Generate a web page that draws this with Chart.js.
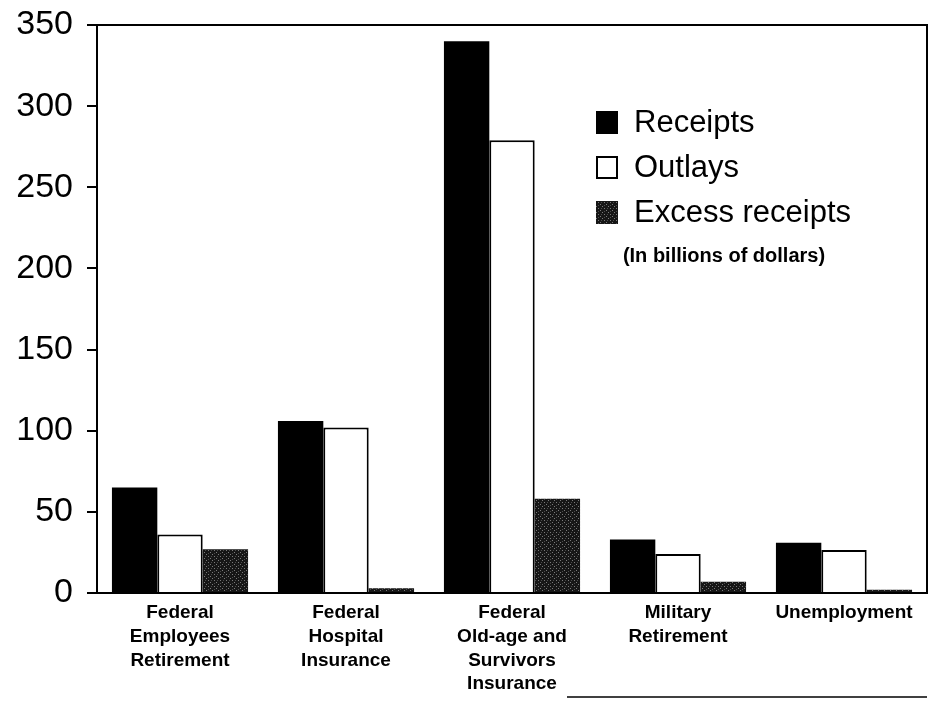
<!DOCTYPE html>
<html>
<head>
<meta charset="utf-8">
<script src="https://cdn.jsdelivr.net/npm/chart.js@4"></script>
<style>
  html, body { margin: 0; padding: 0; background: #fff; }
  #wrap { width: 938px; height: 712px; }
</style>
</head>
<body>
<div id="wrap"><canvas id="funds"></canvas></div>
<script>
  const categories = [
    ["Federal", "Employees", "Retirement"],
    ["Federal", "Hospital", "Insurance"],
    ["Federal", "Old-age and", "Survivors", "Insurance"],
    ["Military", "Retirement"],
    ["Unemployment"]
  ];
  const receipts = [65, 106, 340, 33, 31];
  const outlays = [36, 102, 279, 24, 26.5];
  const excessReceipts = [27, 3, 58, 7, 2];
  const yTicks = [0, 50, 100, 150, 200, 250, 300, 350];

  const FONT = "'Liberation Sans', Arial, sans-serif";

  // speckled dark fill for the excess receipts bars
  function makeSpeckle() {
    const c = document.createElement("canvas");
    c.width = 6; c.height = 6;
    const g = c.getContext("2d");
    g.fillStyle = "#161616";
    g.fillRect(0, 0, 6, 6);
    g.fillStyle = "#7a7a7a";
    for (let i = 0; i < 6; i += 2) g.fillRect(i, i, 1, 1);
    g.fillStyle = "#4a4a4a";
    g.fillRect(4, 1, 1, 1);
    g.fillRect(1, 4, 1, 1);
    return g.createPattern(c, "repeat");
  }
  const speckle = makeSpeckle();

  // frame around the plot, the legend block and the rule at the bottom
  const decorations = {
    id: "decorations",
    afterDraw(chart) {
      const ctx = chart.ctx;
      const a = chart.chartArea;
      ctx.save();
      ctx.strokeStyle = "#000";
      ctx.lineWidth = 2;
      ctx.beginPath();
      ctx.moveTo(a.left - 10, a.top);
      ctx.lineTo(a.right, a.top);
      ctx.lineTo(a.right, a.bottom);
      ctx.stroke();

      ctx.lineWidth = 1.5;
      ctx.beginPath();
      ctx.moveTo(a.left + 470, 697);
      ctx.lineTo(a.right, 697);
      ctx.stroke();

      const lx = 596, ly = 111, gap = 45;
      ctx.font = "31px " + FONT;
      ctx.textBaseline = "middle";
      chart.data.datasets.forEach((ds, i) => {
        const y = ly + i * gap;
        ctx.fillStyle = ds.backgroundColor;
        ctx.fillRect(lx, y, 22, 23);
        if (ds.borderWidth) {
          ctx.lineWidth = 2;
          ctx.strokeStyle = "#000";
          ctx.strokeRect(lx + 1, y + 1, 20, 21);
        }
        ctx.fillStyle = "#000";
        ctx.fillText(ds.label, lx + 38, y + 12);
      });
      ctx.font = "bold 20px " + FONT;
      ctx.textAlign = "center";
      ctx.fillText("(In billions of dollars)", 724, 256);
      ctx.restore();
    }
  };

  new Chart(document.getElementById("funds"), {
    type: "bar",
    data: {
      labels: categories,
      datasets: [
        { label: "Receipts", data: receipts, backgroundColor: "#000", borderWidth: 0 },
        { label: "Outlays", data: outlays, backgroundColor: "#fff", borderColor: "#000", borderWidth: 2 },
        { label: "Excess receipts", data: excessReceipts, backgroundColor: speckle, borderWidth: 0 }
      ]
    },
    options: {
      responsive: true,
      maintainAspectRatio: false,
      animation: false,
      layout: { padding: { top: 25, right: 11, left: 0, bottom: 0 } },
      datasets: { bar: { categoryPercentage: 0.82, barPercentage: 1.0 } },
      plugins: {
        legend: { display: false },
        tooltip: { enabled: false }
      },
      scales: {
        x: {
          grid: { display: false, drawTicks: false },
          border: { display: true, color: "#000", width: 2 },
          ticks: {
            color: "#000",
            padding: 8,
            maxRotation: 0,
            autoSkip: false,
            font: { family: FONT, size: 19, weight: "bold", lineHeight: 1.25 }
          },
          afterFit(scale) { scale.height = 119; }
        },
        y: {
          min: 0,
          max: 350,
          afterBuildTicks(scale) { scale.ticks = yTicks.map(v => ({ value: v })); },
          grid: { drawOnChartArea: false, drawTicks: true, tickLength: 10, color: "#000", lineWidth: 2 },
          border: { display: true, color: "#000", width: 2 },
          ticks: {
            color: "#000",
            padding: 14,
            font: { family: FONT, size: 34 }
          },
          afterFit(scale) {
            scale.width = 97;
            scale.paddingTop = 0;
            scale.paddingBottom = 0;
          }
        }
      }
    },
    plugins: [decorations]
  });
</script>
</body>
</html>
